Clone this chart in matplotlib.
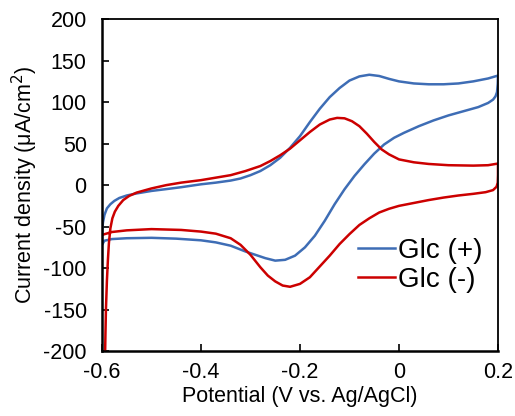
import matplotlib
matplotlib.use("Agg")
import matplotlib.pyplot as plt

plt.rcParams['font.family'] = ['Liberation Sans', 'DejaVu Sans']
plt.rcParams['axes.unicode_minus'] = False

# Glc (+): anodic sweep -0.6 -> 0.2, then cathodic back to -0.6
glc_pos_v = [-0.6, -0.5995, -0.598, -0.595, -0.59, -0.583, -0.575, -0.565, -0.55, -0.53,
             -0.5, -0.47, -0.44, -0.4, -0.37, -0.34, -0.32, -0.3, -0.28, -0.26,
             -0.24, -0.22, -0.2, -0.18, -0.16, -0.14, -0.12, -0.1, -0.08, -0.06,
             -0.04, -0.02, 0, 0.03, 0.06, 0.09, 0.12, 0.15, 0.18, 0.2,
             0.1995, 0.198, 0.195, 0.19, 0.18, 0.16, 0.13, 0.1, 0.07, 0.04,
             0.01, -0.01, -0.03, -0.05, -0.07, -0.09, -0.11, -0.13, -0.15, -0.17,
             -0.19, -0.21, -0.23, -0.25, -0.27, -0.29, -0.31, -0.34, -0.37, -0.4,
             -0.45, -0.5, -0.55, -0.58, -0.595, -0.6]
glc_pos_i = [-70, -55, -45, -36, -28, -23, -19, -15.5, -12.5, -10,
             -7, -4.8, -2.5, 1, 3, 5.5, 8, 12, 17, 24,
             33, 45, 59, 76, 92, 106, 117, 126, 131, 133,
             131.5, 128, 125, 122.5, 121.5, 121.5, 122.5, 125, 128.5, 132,
             122, 112, 107, 103, 99, 94, 89, 84, 78, 71,
             63, 57, 49, 38, 25, 11, -5, -23, -43, -61,
             -75, -85, -90, -91, -88, -84, -80, -73, -69, -66.5,
             -64.5, -63.5, -64, -65, -67, -72]

# Glc (-)
glc_neg_v = [-0.594, -0.593, -0.592, -0.59, -0.588, -0.586, -0.583, -0.579, -0.574, -0.567,
             -0.557, -0.545, -0.53, -0.5, -0.47, -0.44, -0.4, -0.37, -0.34, -0.31,
             -0.28, -0.26, -0.24, -0.22, -0.2, -0.18, -0.16, -0.14, -0.125, -0.11,
             -0.095, -0.08, -0.065, -0.05, -0.035, -0.02, 0, 0.03, 0.06, 0.1,
             0.15, 0.18, 0.2,
             0.2, 0.1995, 0.197, 0.19, 0.175, 0.15, 0.12, 0.09, 0.06, 0.03,
             0, -0.02, -0.04, -0.06, -0.08, -0.1, -0.12, -0.14, -0.16, -0.18,
             -0.2, -0.22, -0.235, -0.25, -0.265, -0.28, -0.3, -0.32, -0.34, -0.37,
             -0.4, -0.44, -0.5, -0.55, -0.58, -0.6]
glc_neg_i = [-215, -180, -150, -115, -90, -70, -52, -40, -32, -25,
             -18, -13, -9, -4, 0, 3, 6, 9, 12, 17,
             23, 29, 36, 44, 54, 64, 73, 79, 81, 80.5,
             77, 71, 62, 52, 43, 37, 31, 27.5, 25.5, 24,
             23.5, 24, 26,
             12, 3, -2, -6, -8.5, -10.5, -12.5, -15, -18, -21.5,
             -25, -28.5, -33, -40, -48, -59, -71, -85, -98, -111,
             -119, -122.5, -121, -116, -109, -99, -84, -72, -64, -58.5,
             -56, -54, -53, -54.5, -56.5, -60]

x_ticks = [-0.6, -0.4, -0.2, 0, 0.2]
x_tick_labels = ['-0.6', '-0.4', '-0.2', '0', '0.2']
y_ticks = [-200, -150, -100, -50, 0, 50, 100, 150, 200]

fig = plt.figure(figsize=(5.15, 4.16), dpi=100)
ax = fig.add_axes([0.198, 0.156, 0.769, 0.798])

ax.plot(glc_pos_v, glc_pos_i, color='#3E6DB5', lw=1.8, label='Glc (+)')
ax.plot(glc_neg_v, glc_neg_i, color='#CC0000', lw=1.8, label='Glc (-)')

ax.set_xlim(-0.6, 0.2)
ax.set_ylim(-200, 200)
ax.set_xticks(x_ticks)
ax.set_xticklabels(x_tick_labels)
ax.set_yticks(y_ticks)
ax.tick_params(direction='in', length=5, width=1.2, labelsize=15.5, pad=8,
               top=False, right=False, colors='black')
ax.tick_params(axis='y', pad=11)
for side in ['left', 'bottom']:
    ax.spines[side].set_linewidth(1.8)
for side in ['top', 'right']:
    ax.spines[side].set_linewidth(1.3)

ax.set_xlabel('Potential (V vs. Ag/AgCl)', fontsize=15.5, labelpad=2)
ax.set_ylabel('Current density (μA/cm$^2$)', fontsize=15.5, labelpad=2)

ax.legend(loc='center left', bbox_to_anchor=(0.646, 0.259), frameon=False,
          fontsize=20, handlelength=1.33, handletextpad=0.1, labelspacing=0.1,
          borderaxespad=0, borderpad=0)

fig.savefig('out.png', dpi=100)
